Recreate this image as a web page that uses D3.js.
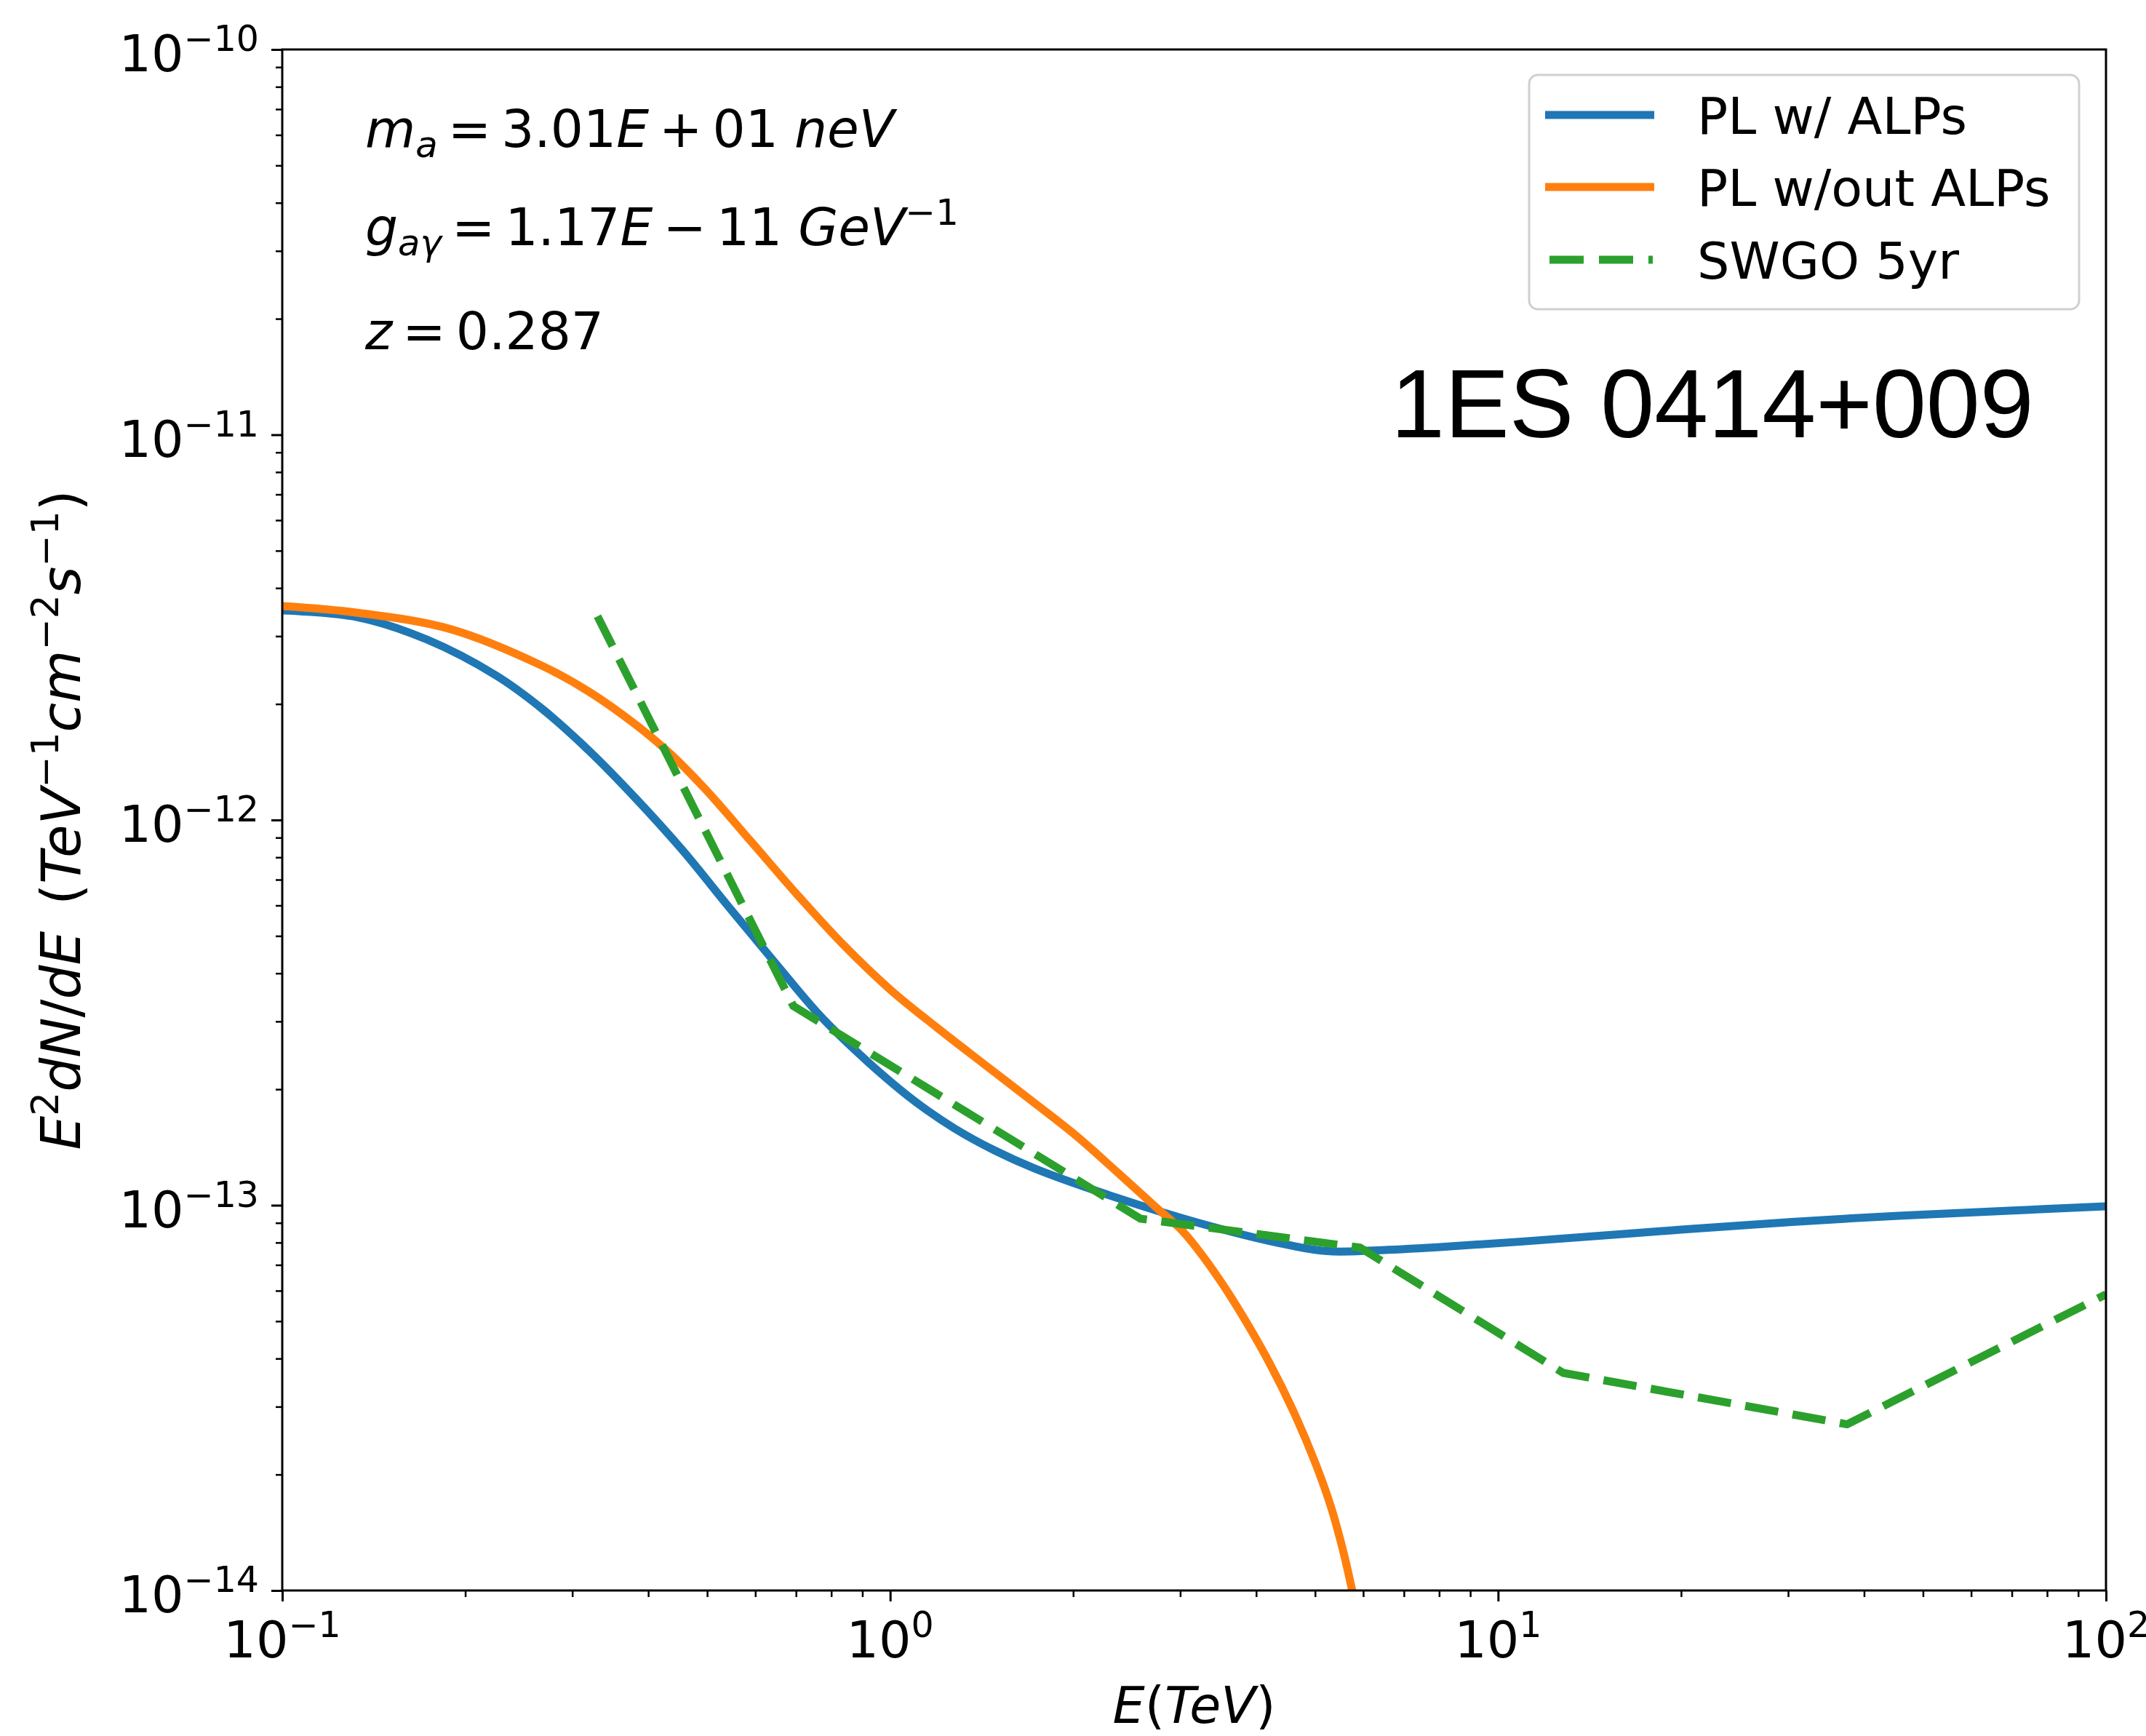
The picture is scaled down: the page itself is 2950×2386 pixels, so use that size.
<!DOCTYPE html>
<html>
<head>
<meta charset="utf-8">
<script src="https://cdn.jsdelivr.net/npm/d3@7"></script>
<style>
   body { margin: 0; background: #fff; }
   text { font-family: "DejaVu Sans", sans-serif; fill: #000; }
</style>
</head>
<body>
<div id="chart"></div>
<script>
// PL w/ ALPs (blue)
var alpEnergy = [0.1, 0.133, 0.173, 0.225, 0.268, 0.32, 0.381, 0.455, 0.542, 0.646, 0.769, 0.918,
   1.094, 1.274, 1.486, 1.73, 2.355, 3.2, 4.355, 5.236, 6.31, 7.94, 10.96, 20.2, 37.4, 69.3, 100];
var alpFlux = [3.50e-12, 3.36e-12, 2.94e-12, 2.37e-12, 1.94e-12, 1.51e-12, 1.14e-12, 8.36e-13, 5.96e-13,
   4.27e-13, 3.09e-13, 2.36e-13, 1.87e-13, 1.585e-13, 1.387e-13, 1.245e-13, 1.047e-13, 9.02e-14,
   7.98e-14, 7.60e-14, 7.64e-14, 7.78e-14, 8.05e-14, 8.65e-14, 9.23e-14, 9.68e-14, 9.93e-14];

// PL w/out ALPs (orange)
var noAlpEnergy = [0.1, 0.133, 0.189, 0.268, 0.32, 0.381, 0.436, 0.497, 0.592, 0.705, 0.839, 1.0,
   1.191, 1.419, 1.73, 2.018, 2.355, 2.748, 3.006, 3.2, 3.508, 3.846, 4.227, 4.624, 5.012, 5.309,
   5.559, 5.754, 6.026];
var noAlpFlux = [3.59e-12, 3.45e-12, 3.13e-12, 2.51e-12, 2.15e-12, 1.77e-12, 1.48e-12, 1.20e-12, 8.75e-13,
   6.37e-13, 4.73e-13, 3.63e-13, 2.90e-13, 2.34e-13, 1.84e-13, 1.52e-13, 1.225e-13, 9.82e-14, 8.67e-14,
   7.71e-14, 6.30e-14, 5.00e-14, 3.84e-14, 2.88e-14, 2.13e-14, 1.65e-14, 1.27e-14, 1.0e-14, 6.9e-15];

// SWGO 5yr sensitivity (green dashed)
var swgoEnergy = [0.33, 0.693, 2.58, 5.93, 12.8, 37.5, 100];
var swgoFlux = [3.38e-12, 3.29e-13, 9.23e-14, 7.76e-14, 3.67e-14, 2.70e-14, 5.87e-14];

// ticks
var xTickValues = [0.1, 1, 10, 100];
var xTickExponents = ["−1", "0", "1", "2"];
var yTickValues = [1e-14, 1e-13, 1e-12, 1e-11, 1e-10];
var yTickExponents = ["−14", "−13", "−12", "−11", "−10"];

var legendLabels = ["PL w/ ALPs", "PL w/out ALPs", "SWGO 5yr"];
var seriesColors = ["#1f77b4", "#ff7f0e", "#2ca02c"];

// layout
var plot = { left: 388, right: 2895, top: 68, bottom: 2186 };
var fontSize = 70;

var svg = d3.select("#chart")
   .append("svg")
   .attr("width", 2950)
   .attr("height", 2386);

svg.append("rect")
   .attr("width", 2950)
   .attr("height", 2386)
   .attr("fill", "#fff");

var xScale = d3.scaleLog()
   .domain([0.1, 100])
   .range([plot.left, plot.right]);

var yScale = d3.scaleLog()
   .domain([1e-14, 1e-10])
   .range([plot.bottom, plot.top]);

// writes mathtext-like parts into a text element
function mathText(textSel, parts, size) {
   var shift = 0;
   parts.forEach(function (p) {
      var s = p.sup ? -0.4 * size : (p.sub ? 0.2 * size : 0);
      var ts = textSel.append("tspan")
         .attr("dy", s - shift)
         .attr("font-size", (p.sup || p.sub) ? 0.7 * size : size)
         .attr("font-style", p.it ? "italic" : "normal")
         .text(p.t);
      if (p.dx) ts.attr("dx", p.dx);
      shift = s;
   });
}

// minor tick positions between decades
function minorTicks(majors) {
   var out = [];
   for (var i = 0; i < majors.length - 1; i++) {
      for (var m = 2; m <= 9; m++) out.push(majors[i] * m);
   }
   return out;
}

// X axis ticks
svg.append("g")
   .attr("transform", "translate(0," + plot.bottom + ")")
   .call(d3.axisBottom(xScale).tickValues(xTickValues).tickSize(15).tickFormat(""))
   .call(function (g) { g.select(".domain").remove(); })
   .selectAll("line").attr("stroke-width", 3);

svg.append("g")
   .attr("transform", "translate(0," + plot.bottom + ")")
   .call(d3.axisBottom(xScale).tickValues(minorTicks(xTickValues)).tickSize(9).tickFormat(""))
   .call(function (g) { g.select(".domain").remove(); })
   .selectAll("line").attr("stroke-width", 2.5);

// Y axis ticks
svg.append("g")
   .attr("transform", "translate(" + plot.left + ",0)")
   .call(d3.axisLeft(yScale).tickValues(yTickValues).tickSize(15).tickFormat(""))
   .call(function (g) { g.select(".domain").remove(); })
   .selectAll("line").attr("stroke-width", 3);

svg.append("g")
   .attr("transform", "translate(" + plot.left + ",0)")
   .call(d3.axisLeft(yScale).tickValues(minorTicks(yTickValues)).tickSize(9).tickFormat(""))
   .call(function (g) { g.select(".domain").remove(); })
   .selectAll("line").attr("stroke-width", 2.5);

// tick labels
xTickValues.forEach(function (v, i) {
   var t = svg.append("text")
      .attr("x", xScale(v))
      .attr("y", plot.bottom + 92)
      .attr("text-anchor", "middle")
      .attr("font-size", fontSize);
   mathText(t, [{ t: "10" }, { t: xTickExponents[i], sup: true }], fontSize);
});

yTickValues.forEach(function (v, i) {
   var t = svg.append("text")
      .attr("x", plot.left - 32)
      .attr("y", yScale(v) + 30)
      .attr("text-anchor", "end")
      .attr("font-size", fontSize);
   mathText(t, [{ t: "10" }, { t: yTickExponents[i], sup: true }], fontSize);
});

// axis labels
var xLabel = svg.append("text")
   .attr("x", (plot.left + plot.right) / 2)
   .attr("y", 2368)
   .attr("text-anchor", "middle")
   .attr("font-size", fontSize);
mathText(xLabel, [{ t: "E", it: true }, { t: "(" }, { t: "TeV", it: true }, { t: ")" }], fontSize);

var yLabel = svg.append("text")
   .attr("transform", "translate(110," + ((plot.top + plot.bottom) / 2) + ") rotate(-90)")
   .attr("text-anchor", "middle")
   .attr("font-size", 74);
mathText(yLabel, [
   { t: "E", it: true }, { t: "2", sup: true }, { t: "dN", it: true }, { t: "/" }, { t: "dE", it: true },
   { t: "(", dx: 36 }, { t: "TeV", it: true }, { t: "−1", sup: true }, { t: "cm", it: true },
   { t: "−2", sup: true }, { t: "s", it: true }, { t: "−1", sup: true }, { t: ")" }
], 74);

// clip curves to the axes box
svg.append("clipPath")
   .attr("id", "plot-clip")
   .append("rect")
   .attr("x", plot.left)
   .attr("y", plot.top)
   .attr("width", plot.right - plot.left)
   .attr("height", plot.bottom - plot.top);

var smoothLine = d3.line()
   .x(function (d) { return xScale(d.e); })
   .y(function (d) { return yScale(d.f); })
   .curve(d3.curveCatmullRom.alpha(0.5));

var straightLine = d3.line()
   .x(function (d) { return xScale(d.e); })
   .y(function (d) { return yScale(d.f); });

function pairUp(es, fs) {
   return es.map(function (e, i) { return { e: e, f: fs[i] }; });
}

var curves = svg.append("g").attr("clip-path", "url(#plot-clip)");

curves.append("path")
   .datum(pairUp(alpEnergy, alpFlux))
   .attr("fill", "none")
   .attr("stroke", seriesColors[0])
   .attr("stroke-width", 11)
   .attr("d", smoothLine);

curves.append("path")
   .datum(pairUp(noAlpEnergy, noAlpFlux))
   .attr("fill", "none")
   .attr("stroke", seriesColors[1])
   .attr("stroke-width", 11)
   .attr("d", smoothLine);

curves.append("path")
   .datum(pairUp(swgoEnergy, swgoFlux))
   .attr("fill", "none")
   .attr("stroke", seriesColors[2])
   .attr("stroke-width", 11)
   .attr("stroke-dasharray", "46,20")
   .attr("d", straightLine);

// frame
svg.append("rect")
   .attr("x", plot.left)
   .attr("y", plot.top)
   .attr("width", plot.right - plot.left)
   .attr("height", plot.bottom - plot.top)
   .attr("fill", "none")
   .attr("stroke", "#000")
   .attr("stroke-width", 3);

// annotations
var notes = [
   [{ t: "m", it: true }, { t: "a", it: true, sub: true }, { t: "=", dx: 14 }, { t: "3.01", dx: 14 },
      { t: "E", it: true }, { t: "+", dx: 14 }, { t: "01", dx: 14 }, { t: "neV", it: true, dx: 22 }],
   [{ t: "g", it: true }, { t: "aγ", it: true, sub: true }, { t: "=", dx: 14 }, { t: "1.17", dx: 14 },
      { t: "E", it: true }, { t: "−", dx: 14 }, { t: "11", dx: 14 }, { t: "GeV", it: true, dx: 22 },
      { t: "−1", sup: true }],
   [{ t: "z", it: true }, { t: "=", dx: 14 }, { t: "0.287", dx: 14 }]
];
var noteBaselines = [202, 337, 480];

notes.forEach(function (parts, i) {
   var t = svg.append("text")
      .attr("x", 502)
      .attr("y", noteBaselines[i])
      .attr("font-size", 71);
   mathText(t, parts, 71);
});

// source name
svg.append("text")
   .attr("x", 1912)
   .attr("y", 601)
   .attr("font-size", 133)
   .style("font-family", "'Liberation Sans', Arial, sans-serif")
   .text("1ES 0414+009");

// legend
var legend = svg.append("g");

legend.append("rect")
   .attr("x", 2102)
   .attr("y", 103)
   .attr("width", 756)
   .attr("height", 322)
   .attr("rx", 12)
   .attr("fill", "#fff")
   .attr("fill-opacity", 0.8)
   .attr("stroke", "#d0d0d0")
   .attr("stroke-width", 3);

var legendRows = [158, 257, 357];

legendLabels.forEach(function (label, i) {
   legend.append("line")
      .attr("x1", i === 2 ? 2130 : 2124)
      .attr("x2", i === 2 ? 2272 : 2274)
      .attr("y1", legendRows[i])
      .attr("y2", legendRows[i])
      .attr("stroke", seriesColors[i])
      .attr("stroke-width", 11)
      .attr("stroke-dasharray", i === 2 ? "47,21" : null);

   legend.append("text")
      .attr("x", 2333)
      .attr("y", legendRows[i] + 26)
      .attr("font-size", fontSize)
      .text(label);
});
</script>
</body>
</html>
